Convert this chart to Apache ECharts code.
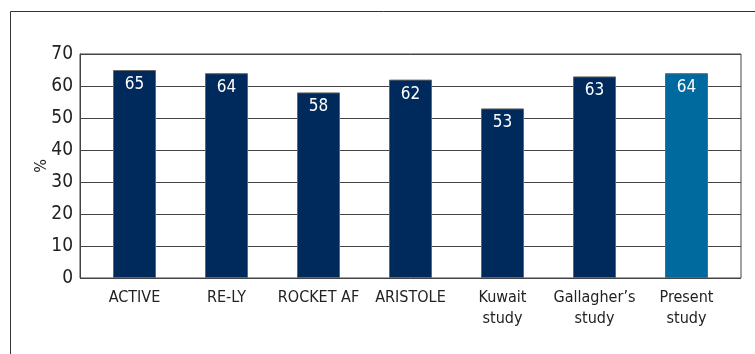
<!DOCTYPE html>
<html><head><meta charset="utf-8">
<script src="https://cdn.jsdelivr.net/npm/echarts@6/dist/echarts.min.js"></script>
<style>html,body{margin:0;padding:0;background:#fff}#c{width:755px;height:354px}</style>
</head><body><div id="c"></div>
<script>
var categories = ['ACTIVE', 'RE-LY', 'ROCKET AF', 'ARISTOLE', 'Kuwait\nstudy', 'Gallagher\u2019s\nstudy', 'Present\nstudy'];
var values = [65, 64, 58, 62, 53, 63, 64];
var yTicks = [0, 10, 20, 30, 40, 50, 60, 70];
var navy = '#002a5c', teal = '#006a9f';
var FONT = '"Liberation Sans Narrow", "DejaVu Sans Condensed", sans-serif';
var chart = echarts.init(document.getElementById('c'));
chart.setOption({
  animation: false,
  graphic: [{type: 'rect', left: 8, top: 9, shape: {width: 800, height: 400}, style: {fill: 'none', stroke: '#333', lineWidth: 1}, z: -1}],
  grid: [
    {left: 80, right: 14, top: 54, bottom: 76, show: true, borderColor: '#444', borderWidth: 1},
    {left: 88.5, right: 22.5, top: 54, bottom: 76}
  ],
  xAxis: [
    {gridIndex: 0, type: 'value', show: false, min: 0, max: 1},
    {gridIndex: 1, type: 'category', data: categories, boundaryGap: true,
     axisLine: {show: false}, axisTick: {show: false},
     axisLabel: {color: '#222', fontFamily: FONT, fontSize: 16, lineHeight: 21, margin: 9, interval: 0}}
  ],
  yAxis: [
    {gridIndex: 0, type: 'value', min: yTicks[0], max: yTicks[yTicks.length - 1], interval: 10,
     name: '%', nameLocation: 'middle', nameGap: 30, nameRotate: 90, nameMoveOverlap: false,
     nameTextStyle: {color: '#222', fontFamily: FONT, fontSize: 16},
     axisLine: {show: true, lineStyle: {color: '#444', width: 1}}, axisTick: {show: false},
     axisLabel: {color: '#222', fontFamily: FONT, fontSize: 19, margin: 7},
     splitLine: {show: true, lineStyle: {color: '#444', width: 1}}},
    {gridIndex: 1, type: 'value', min: 0, max: 70, show: false, splitLine: {show: false}}
  ],
  series: [{
    type: 'bar', xAxisIndex: 1, yAxisIndex: 1, barWidth: 43,
    data: values.map(function (v, i) {
      return {value: v, itemStyle: {color: i === values.length - 1 ? teal : navy}};
    }),
    itemStyle: {borderColor: '#666', borderWidth: 1},
    label: {show: true, position: 'insideTop', distance: 6, color: '#fff', fontFamily: FONT, fontSize: 17}
  }]
});
</script></body></html>
